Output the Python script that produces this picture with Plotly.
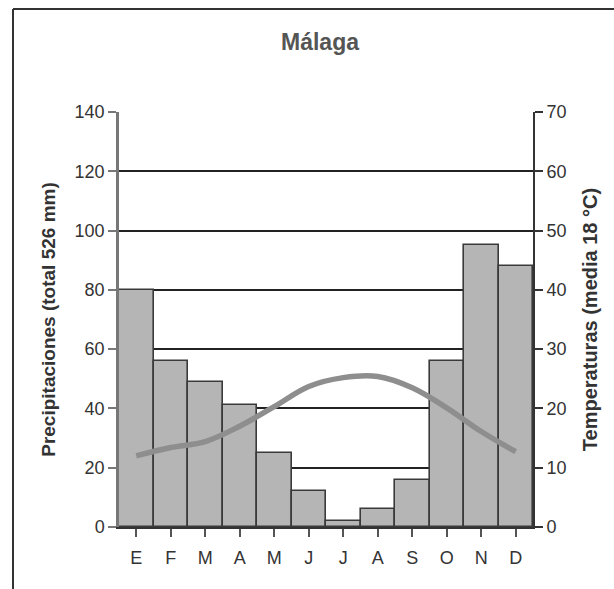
import plotly.graph_objects as go

months = ["E", "F", "M", "A", "M", "J", "J", "A", "S", "O", "N", "D"]
month_ids = list(range(12))
precip = [80, 56, 49, 41, 25, 12, 2, 6, 16, 56, 95, 88]
temp = [12, 13.4, 14.4, 17, 20.3, 23.7, 25.2, 25.4, 23.5, 20.1, 16.1, 12.7]
left_ticks = [0, 20, 40, 60, 80, 100, 120, 140]
right_ticks = [0, 10, 20, 30, 40, 50, 60, 70]

W, H = 614, 589
L, R, T, B = 119, 81, 112, 62
pw, ph = W - L - R, H - T - B

def px(x):
    return (x - L) / pw

def py(y):
    return (H - B - y) / ph

fig = go.Figure()
fig.add_trace(go.Bar(
    x=month_ids, y=precip, marker=dict(color="#b5b5b5", line=dict(color="#3a3a3a", width=1.6)),
    width=1.0, showlegend=False, hoverinfo="y"))
fig.add_trace(go.Scatter(
    x=month_ids, y=temp, yaxis="y2", mode="lines",
    line=dict(color="#8e8e8e", width=5.5, shape="spline", smoothing=1.0),
    showlegend=False))

font = "Liberation Sans, Arial, sans-serif"
fig.update_layout(
    width=W, height=H,
    margin=dict(l=L, r=R, t=T, b=B, autoexpand=False),
    paper_bgcolor="white", plot_bgcolor="white",
    font=dict(family=font, color="#333333"),
    bargap=0,
    title=dict(text="<b>Málaga</b>", x=320 / W, xanchor="center", y=1 - 42 / H, yanchor="middle",
               font=dict(size=23, color="#555555", family=font)),
    xaxis=dict(tickmode="array", tickvals=month_ids, ticktext=months, range=[-0.5, 11.5],
               showline=True, linecolor="#333333", linewidth=2,
               ticks="outside", ticklen=8, tickwidth=2, tickcolor="#555555",
               showgrid=False, tickfont=dict(size=18, color="#333333"),
               ticklabelstandoff=5,
               zeroline=False, automargin=False),
    yaxis=dict(range=[0, 140], tickvals=left_ticks, showline=True, linecolor="#777777", linewidth=2.5,
               ticks="outside", ticklen=8, tickwidth=2, tickcolor="#777777",
               showgrid=True, gridcolor="#222222", gridwidth=1.5, zeroline=False,
               tickfont=dict(size=18, color="#333333"), automargin=False,
               title=dict(text="<b>Precipitaciones (total 526 mm)</b>", standoff=14,
                          font=dict(size=19, color="#333333"))),
    yaxis2=dict(range=[0, 70], tickvals=right_ticks, overlaying="y", side="right",
                showline=True, linecolor="#333333", linewidth=2,
                ticks="outside", ticklen=8, tickwidth=2, tickcolor="#333333",
                showgrid=False, zeroline=False, automargin=False,
                tickfont=dict(size=18, color="#333333"),
                title=dict(text="<b>Temperaturas (media 18 °C)</b>", standoff=17,
                           font=dict(size=20, color="#333333"))),
    shapes=[
        dict(type="line", xref="paper", yref="paper", x0=px(13), x1=px(13), y0=py(9), y1=py(H + 5),
             line=dict(color="#333333", width=2)),
        dict(type="line", xref="paper", yref="paper", x0=px(13), x1=px(W + 5), y0=py(9), y1=py(9),
             line=dict(color="#333333", width=2)),
    ],
)
fig.update_xaxes(tickson="boundaries")
fig.write_html("out.html", config={"displayModeBar": False},
               post_script="document.body.style.margin='0';document.body.style.overflow='hidden';")
